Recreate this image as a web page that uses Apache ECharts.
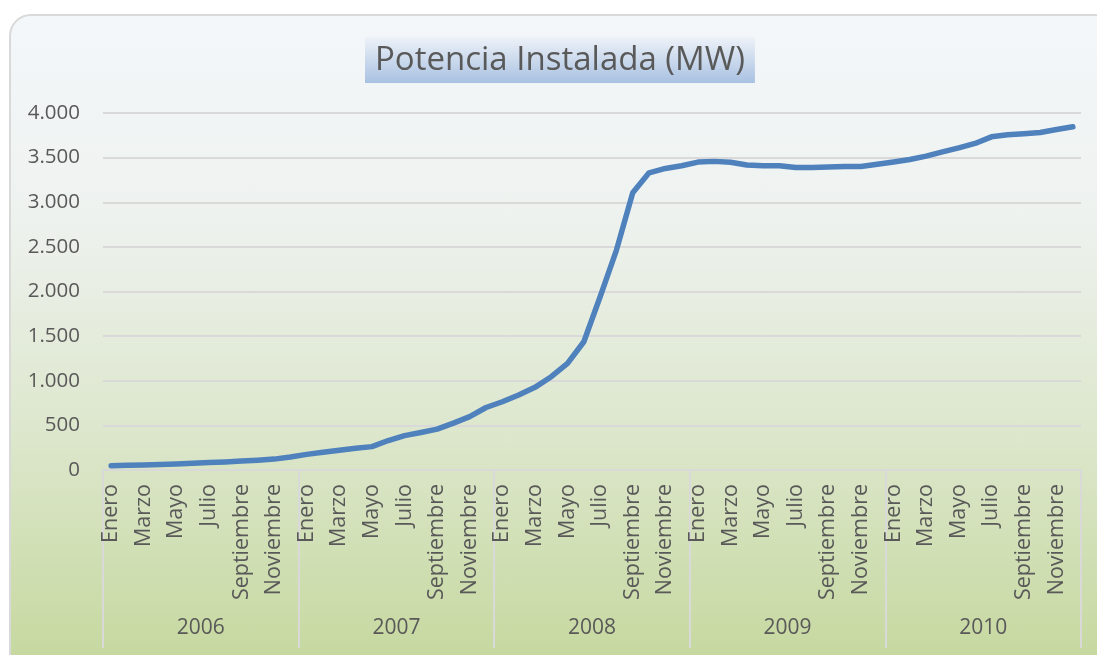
<!DOCTYPE html>
<html lang="es">
<head>
<meta charset="UTF-8">
<title>Potencia Instalada (MW)</title>
<script src="https://cdn.jsdelivr.net/npm/echarts@6/dist/echarts.min.js"></script>
<style>
    html, body { margin: 0; padding: 0; background: #ffffff; overflow: hidden; }
    .panel {
        position: absolute; left: 9px; top: 14px; width: 1110px; height: 670px;
        border: 2px solid #d9d9d9; border-radius: 22px; box-sizing: border-box;
        background: linear-gradient(to bottom, #f4f7fa 0%, #eef2ef 30%, #dde7cd 62%, #c4d79b 100%);
    }
    #chart1 { position: absolute; left: 0; top: 0; width: 1097px; height: 655px; }
</style>
</head>
<body>
<div class="panel"></div>
<div id="chart1"></div>
<script>
    var months = ['Enero', 'Febrero', 'Marzo', 'Abril', 'Mayo', 'Junio', 'Julio', 'Agosto',
        'Septiembre', 'Octubre', 'Noviembre', 'Diciembre'];
    var years = ['2006', '2007', '2008', '2009', '2010'];

    // MW por mes
    var mw2006 = [48, 52, 57, 62, 68, 76, 83, 90, 100, 110, 122, 145];
    var mw2007 = [175, 198, 222, 243, 262, 330, 385, 420, 458, 525, 598, 700];
    var mw2008 = [765, 840, 926, 1045, 1195, 1437, 1941, 2464, 3106, 3330, 3379, 3409];
    var mw2009 = [3450, 3458, 3448, 3418, 3408, 3410, 3390, 3390, 3395, 3400, 3400, 3425];
    var mw2010 = [3450, 3479, 3517, 3565, 3610, 3659, 3733, 3756, 3767, 3782, 3815, 3845];

    var yTicks = [0, 500, 1000, 1500, 2000, 2500, 3000, 3500, 4000];

    var cats = [], values = [];
    [mw2006, mw2007, mw2008, mw2009, mw2010].forEach(function (arr, y) {
        arr.forEach(function (v, m) {
            cats.push(years[y] + '-' + months[m]);
            values.push(v);
        });
    });

    function miles(v) {
        return String(v).replace(/\B(?=(\d{3})+(?!\d))/g, '.');
    }

    var font = '"Open Sans", "Noto Sans", sans-serif';
    var grey = '#595959';
    var lineGrey = '#d9d9d9';

    var ctx1 = echarts.init(document.getElementById('chart1'));
    ctx1.setOption({
        animation: false,
        backgroundColor: 'transparent',
        title: {
            text: 'Potencia Instalada (MW)',
            left: 365,
            top: 37,
            padding: [7, 10, 6, 10],
            backgroundColor: new echarts.graphic.LinearGradient(0, 0, 0, 1, [
                { offset: 0, color: '#eef2f8' },
                { offset: 1, color: '#a9c1e1' }
            ]),
            textStyle: { fontFamily: font, fontSize: 33, fontWeight: 'normal', color: grey }
        },
        grid: { left: 103, right: 16, top: 113, bottom: 185, containLabel: false },
        xAxis: [{
            type: 'category',
            data: cats,
            boundaryGap: true,
            axisLine: { lineStyle: { color: lineGrey, width: 2 } },
            axisTick: { show: false },
            axisLabel: {
                interval: 1,
                rotate: 90,
                margin: 14,
                fontFamily: font,
                fontSize: 21.5,
                color: grey,
                formatter: function (v) { return v.split('-')[1]; }
            }
        }, {
            type: 'category',
            data: years,
            position: 'bottom',
            boundaryGap: true,
            axisLine: { show: false },
            axisTick: { show: true, length: 178, lineStyle: { color: lineGrey, width: 2 } },
            axisLabel: { margin: 148, fontFamily: font, fontSize: 21, color: grey }
        }],
        yAxis: {
            type: 'value',
            min: 0,
            max: 4000,
            interval: 500,
            axisLine: { show: false },
            axisTick: { show: false },
            splitLine: { lineStyle: { color: lineGrey, width: 2 } },
            axisLabel: {
                margin: 23,
                fontFamily: font,
                fontSize: 20.5,
                color: grey,
                formatter: function (v) { return yTicks.indexOf(v) >= 0 ? miles(v) : ''; }
            }
        },
        series: [{
            type: 'line',
            data: values,
            xAxisIndex: 0,
            showSymbol: false,
            lineStyle: { color: '#4f81bd', width: 5.5, cap: 'round', join: 'round' }
        }]
    });
</script>
</body>
</html>
